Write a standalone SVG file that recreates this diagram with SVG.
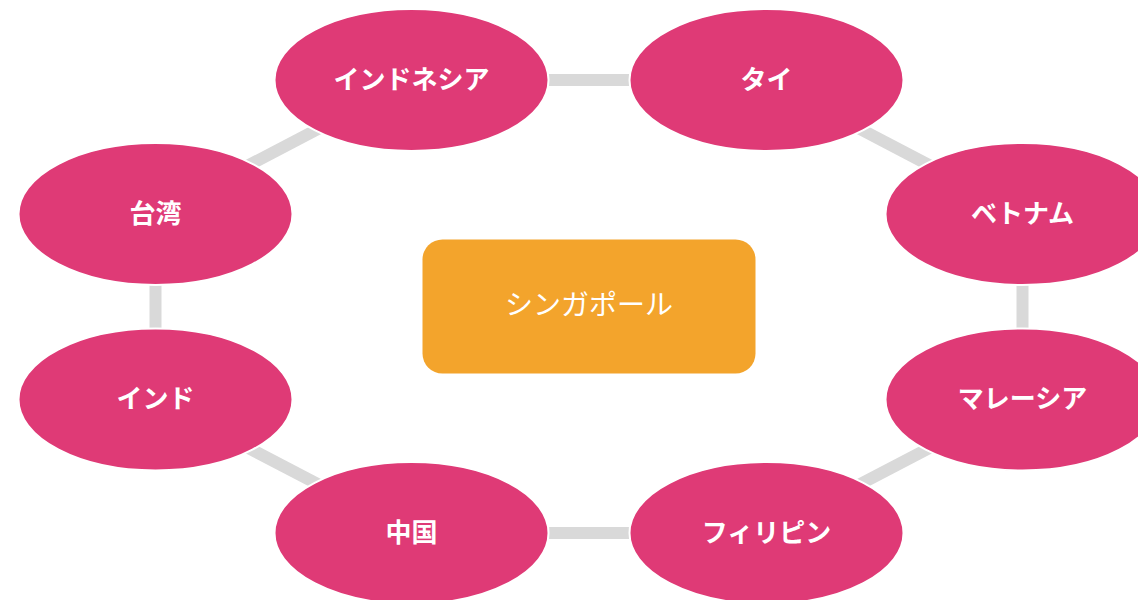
<svg xmlns="http://www.w3.org/2000/svg" width="1138" height="600" viewBox="0 0 1138 600">
<style>
.conn{stroke:#D9D9D9;stroke-width:12;fill:none}
.node ellipse{fill:#DF3A76;stroke:#FFFFFF;stroke-width:2}
.node text{fill:#FFFFFF;font-family:"Noto Sans CJK JP","Noto Sans",sans-serif;font-weight:bold;font-size:26px;text-anchor:middle;dominant-baseline:central}
.center rect{fill:#F3A42C}
.center text{fill:#FFFFFF;font-family:"Noto Sans CJK JP","Noto Sans",sans-serif;font-weight:normal;font-size:28px;text-anchor:middle;dominant-baseline:central}
</style>
<rect width="1138" height="600" fill="#FFFFFF"/>
<g id="connectors">
<line class="conn" x1="411.5" y1="80" x2="766.5" y2="80"/>
<line class="conn" x1="766.5" y1="80" x2="1022.5" y2="214"/>
<line class="conn" x1="1022.5" y1="214" x2="1022.5" y2="399.5"/>
<line class="conn" x1="1022.5" y1="399.5" x2="766.5" y2="533"/>
<line class="conn" x1="766.5" y1="533" x2="411.5" y2="533"/>
<line class="conn" x1="411.5" y1="533" x2="155.5" y2="399.5"/>
<line class="conn" x1="155.5" y1="399.5" x2="155.5" y2="214"/>
<line class="conn" x1="155.5" y1="214" x2="411.5" y2="80"/>
</g>
<g id="singapore" class="center">
<rect x="422.5" y="239.5" width="333" height="134" rx="20" ry="20"/>
<text x="589" y="303">シンガポール</text>
</g>
<g id="indonesia" class="node"><ellipse cx="411.5" cy="80" rx="137" ry="71"/><text x="411.5" y="77">インドネシア</text></g>
<g id="thailand" class="node"><ellipse cx="766.5" cy="80" rx="137" ry="71"/><text x="766.5" y="77">タイ</text></g>
<g id="vietnam" class="node"><ellipse cx="1022.5" cy="214" rx="137" ry="71"/><text x="1022.5" y="211">ベトナム</text></g>
<g id="malaysia" class="node"><ellipse cx="1022.5" cy="399.5" rx="137" ry="71"/><text x="1022.5" y="396.5">マレーシア</text></g>
<g id="philippines" class="node"><ellipse cx="766.5" cy="533" rx="137" ry="71"/><text x="766.5" y="530">フィリピン</text></g>
<g id="china" class="node"><ellipse cx="411.5" cy="533" rx="137" ry="71"/><text x="411.5" y="530">中国</text></g>
<g id="india" class="node"><ellipse cx="155.5" cy="399.5" rx="137" ry="71"/><text x="155.5" y="396.5">インド</text></g>
<g id="taiwan" class="node"><ellipse cx="155.5" cy="214" rx="137" ry="71"/><text x="155.5" y="211">台湾</text></g>
</svg>
